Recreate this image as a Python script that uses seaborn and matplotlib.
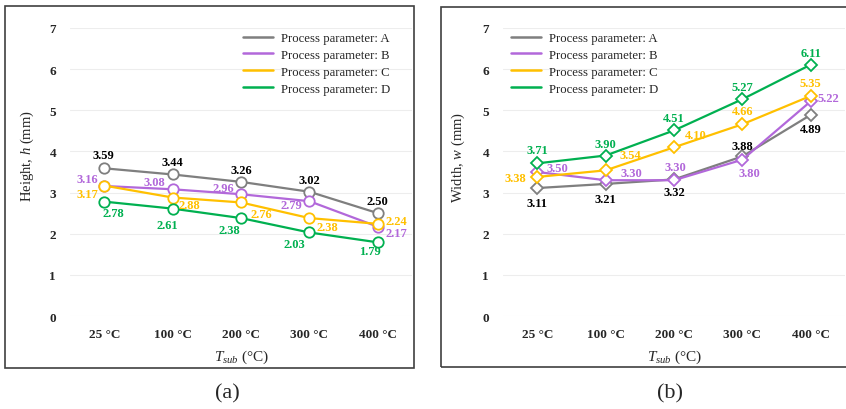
import matplotlib
matplotlib.use("Agg")
import matplotlib.pyplot as plt
from matplotlib.lines import Line2D
from matplotlib.patches import Rectangle
import seaborn as sns
import pandas as pd

# ---------------- data ----------------
categories = ["25 °C", "100 °C", "200 °C", "300 °C", "400 °C"]
series_names = ["Process parameter: A", "Process parameter: B",
                "Process parameter: C", "Process parameter: D"]

height_A = [3.59, 3.44, 3.26, 3.02, 2.50]
height_B = [3.16, 3.08, 2.96, 2.79, 2.17]
height_C = [3.17, 2.88, 2.76, 2.38, 2.24]
height_D = [2.78, 2.61, 2.38, 2.03, 1.79]

width_A = [3.11, 3.21, 3.32, 3.88, 4.89]
width_B = [3.50, 3.30, 3.30, 3.80, 5.22]
width_C = [3.38, 3.54, 4.10, 4.66, 5.35]
width_D = [3.71, 3.90, 4.51, 5.27, 6.11]

y_ticks = [0, 1, 2, 3, 4, 5, 6, 7]

# ---------------- styles ----------------
line_colors = ["#7F7F7F", "#B268DA", "#FFC000", "#00B050"]
label_colors = ["#000000", "#B268DA", "#FFC000", "#00B050"]

# label offsets in pixels (dx, dy), per series
off_height = [
    [(-1, 13), (0, 12), (0, 12), (0, 12), (0, 12)],
    [(-17, 7), (-18, 7), (-18, 6), (-18, -4), (19, -6)],
    [(-17, -8), (17, -7), (20, -12), (18, -9), (19, 3)],
    [(9, -11), (-5, -16), (-12, -12), (-15, -12), (-8, -9)],
]
off_width = [
    [(0, -15), (0, -15), (0, -13), (0, 10), (0, -14)],
    [(20, 4), (26, 7), (1, 13), (7, -13), (18, 3)],
    [(-22, -1), (25, 15), (22, 12), (0, 13), (0, 13)],
    [(0, 13), (0, 12), (0, 12), (0, 12), (0, 12)],
]

W, H = 846, 410
fig = plt.figure(figsize=(W / 100, H / 100), dpi=100)

sns.set_style("white")
plt.rcParams["font.family"] = ["Liberation Serif", "DejaVu Serif"]
plt.rcParams["mathtext.fontset"] = "custom"
plt.rcParams["mathtext.rm"] = "Liberation Serif"
plt.rcParams["mathtext.it"] = "Liberation Serif:italic"


def fx(px):
    return px / W


def fy(py):
    return 1 - py / H


def make_df(vals_list):
    rows = []
    for name, vals in zip(series_names, vals_list):
        for c, v in zip(categories, vals):
            rows.append({"cat": c, "val": v, "series": name})
    return pd.DataFrame(rows)


def draw_panel(ax, vals_list, offsets, marker, ms):
    df = make_df(vals_list)
    for i, name in enumerate(series_names):
        sub = df[df["series"] == name]
        sns.lineplot(data=sub, x="cat", y="val", ax=ax, sort=False,
                     color=line_colors[i], lw=1.6, marker=marker, ms=ms,
                     markerfacecolor="white", markeredgecolor=line_colors[i],
                     markeredgewidth=1.3, legend=False, zorder=3 + i)
    for i, vals in enumerate(vals_list):
        for j, v in enumerate(vals):
            dx, dy = offsets[i][j]
            ax.annotate(f"{v:.2f}", xy=(j, v), xytext=(dx, dy),
                        textcoords="offset pixels", ha="center", va="center",
                        fontsize=9, fontweight="bold", color=label_colors[i],
                        zorder=10)
    ax.set_xlim(-0.5, 4.5)
    ax.set_ylim(0, 7)
    ax.set_yticks(y_ticks)
    ax.set_yticklabels([str(t) for t in y_ticks])
    ax.grid(axis="y", color="#EDEDED", lw=0.8)
    ax.grid(axis="x", visible=False)
    ax.set_axisbelow(True)
    for s in ax.spines.values():
        s.set_visible(False)
    ax.tick_params(axis="both", length=0, labelsize=9.5)
    ax.tick_params(axis="x", pad=9)
    ax.tick_params(axis="y", pad=10)
    for lab in ax.get_xticklabels() + ax.get_yticklabels():
        lab.set_fontweight("bold")
    ax.set_xlabel("")
    ax.set_ylabel("")
    ax.set_facecolor("white")


ax1 = fig.add_axes([fx(70), fy(317), fx(342), (317 - 29) / H])
ax2 = fig.add_axes([fx(503), fy(317), fx(342), (317 - 29) / H])

draw_panel(ax1, [height_A, height_B, height_C, height_D], off_height, "o", 7.5)
draw_panel(ax2, [width_A, width_B, width_C, width_D], off_width, "D", 5.8)

# legends (lines only)
handles = [Line2D([], [], color=c, lw=1.8) for c in line_colors]
for x0 in [243, 511]:
    fig.legend(handles, series_names, loc="upper left",
               bbox_to_anchor=(fx(x0), fy(33)), frameon=False,
               fontsize=9.2, borderpad=0, borderaxespad=0,
               handlelength=2.35, handletextpad=0.65, labelspacing=0.38)

# axis labels
fig.text(fx(27), fy(156), r"Height, $\mathit{h}$ (mm)", rotation=90,
         ha="center", va="center", fontsize=10.5)
fig.text(fx(458), fy(157), r"Width, $\mathit{w}$ (mm)", rotation=90,
         ha="center", va="center", fontsize=10.5)
fig.text(fx(242), fy(357), r"$\mathit{T}_{\mathit{sub}}$ (°C)",
         ha="center", va="center", fontsize=11)
fig.text(fx(675), fy(357), r"$\mathit{T}_{\mathit{sub}}$ (°C)",
         ha="center", va="center", fontsize=11)

# panel letters
fig.text(fx(227), fy(394), "(a)", ha="center", va="center", fontsize=16)
fig.text(fx(670), fy(394), "(b)", ha="center", va="center", fontsize=16)

# panel frames
for (x0, y0, x1, y1) in [(5, 7, 414, 369), (441, 8, 860, 368)]:
    fig.patches.append(Rectangle((fx(x0), fy(y1)), fx(x1 - x0), (y1 - y0) / H,
                                 transform=fig.transFigure, fill=False,
                                 edgecolor="#404040", lw=1.2, zorder=0))

fig.savefig("out.png", dpi=100, facecolor="white")
